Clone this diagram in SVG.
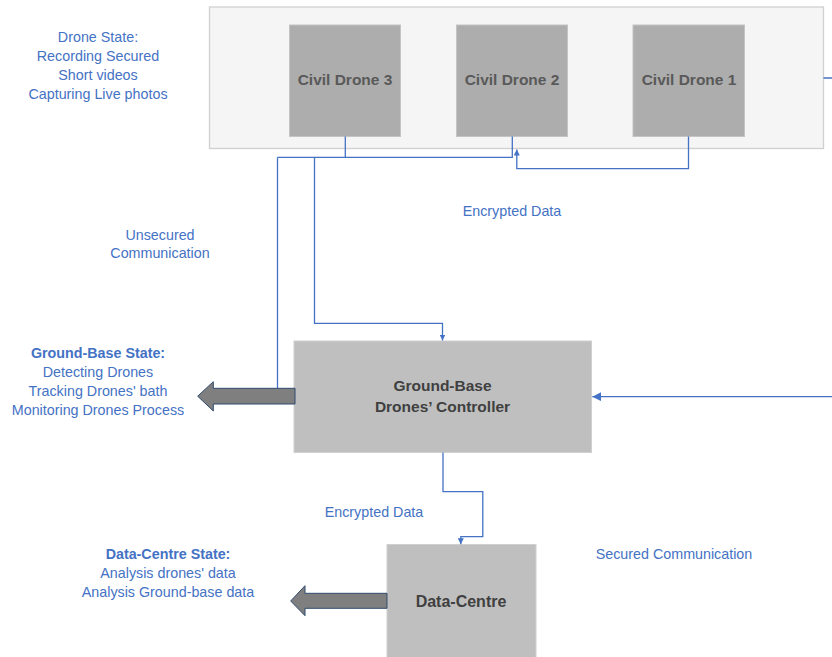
<svg xmlns="http://www.w3.org/2000/svg" width="832" height="657" viewBox="0 0 832 657">
<style>
.lbl{font-family:"Liberation Sans",Arial,sans-serif;font-size:14.3px;fill:#4472C4;text-anchor:middle}
.b{font-weight:bold}
.node{font-family:"Liberation Sans",Arial,sans-serif;font-weight:bold;font-size:15.5px;text-anchor:middle}
.conn{fill:none;stroke:#4472C4;stroke-width:1.3}
.fat{fill:#7f7f7f;stroke:#2f4a6e;stroke-width:1}
</style>
<defs>
<marker id="ah" viewBox="0 0 10 10" refX="10" refY="5" markerWidth="6" markerHeight="6" markerUnits="userSpaceOnUse" orient="auto">
<path d="M0,0 L10,5 L0,10 z" fill="#4472C4"/>
</marker>
<marker id="ah2" viewBox="0 0 10 10" refX="10" refY="5" markerWidth="9" markerHeight="9" markerUnits="userSpaceOnUse" orient="auto">
<path d="M0,0 L10,5 L0,10 z" fill="#4472C4"/>
</marker>
</defs>
<rect width="832" height="657" fill="#ffffff"/>

<g id="drone-container">
<rect x="209.5" y="7" width="614" height="141.5" fill="#f5f5f5" stroke="#d0d0d0" stroke-width="1.3"/>
</g>
<g id="drone3">
<rect x="289.5" y="25" width="111" height="111.5" fill="#adadad" stroke="#c4c4c4" stroke-width="1"/>
<text class="node" x="345" y="85" fill="#595959">Civil Drone 3</text>
</g>
<g id="drone2">
<rect x="456.5" y="25" width="111" height="111.5" fill="#adadad" stroke="#c4c4c4" stroke-width="1"/>
<text class="node" x="512" y="85" fill="#595959">Civil Drone 2</text>
</g>
<g id="drone1">
<rect x="633" y="25" width="111.5" height="111.5" fill="#adadad" stroke="#c4c4c4" stroke-width="1"/>
<text class="node" x="689" y="85" fill="#595959">Civil Drone 1</text>
</g>
<g id="ground-base">
<rect x="294" y="341" width="297.5" height="111.5" fill="#bfbfbf" stroke="#d0d0d0" stroke-width="1"/>
<text class="node" x="442.5" y="391" fill="#404040">Ground-Base</text>
<text class="node" x="442.5" y="412" fill="#404040">Drones’ Controller</text>
</g>
<g id="data-centre">
<rect x="387" y="544.5" width="149" height="113" fill="#bfbfbf" stroke="#d0d0d0" stroke-width="1"/>
<text class="node" x="461" y="607" fill="#404040" style="font-size:16px">Data-Centre</text>
</g>

<g id="connectors">
<path class="conn" d="M345.3,136.5 V157.3 H512.3 V136.5"/>
<path class="conn" d="M688.5,136.5 V168.7 H516.8 V149.5" marker-end="url(#ah)"/>
<path class="conn" d="M277.5,157.3 H345.3"/>
<path class="conn" d="M277.5,157.3 V388.3"/>
<path class="conn" d="M314.5,157.3 V323.3 H442.5 V340.5" marker-end="url(#ah)"/>
<path class="conn" d="M823.5,78 H845 V396.7 H592.3" marker-end="url(#ah2)"/>
<path class="conn" d="M443,452.5 V491.7 H482.8 V536.7 H460.8 V544.3" marker-end="url(#ah)"/>
<path class="fat" d="M295,388.3 H213.3 V381.7 L197.7,396.2 L213.3,411 V404 H295 Z"/>
<path class="fat" d="M387,593.3 H305 V585.7 L290.7,601 L305,615.7 V608.3 H387 Z"/>
</g>

<g id="labels">
<text class="lbl" x="98" y="41.5">Drone State:</text>
<text class="lbl" x="98" y="60.5">Recording Secured</text>
<text class="lbl" x="98" y="79.5">Short videos</text>
<text class="lbl" x="98" y="98.5">Capturing Live photos</text>
<text class="lbl" x="512" y="216">Encrypted Data</text>
<text class="lbl" x="160" y="240">Unsecured</text>
<text class="lbl" x="160" y="258">Communication</text>
<text class="lbl b" x="98" y="358">Ground-Base State:</text>
<text class="lbl" x="98" y="377">Detecting Drones</text>
<text class="lbl" x="98" y="396">Tracking Drones' bath</text>
<text class="lbl" x="98" y="414.5">Monitoring Drones Process</text>
<text class="lbl" x="374" y="517">Encrypted Data</text>
<text class="lbl" x="674" y="559">Secured Communication</text>
<text class="lbl b" x="168" y="558.5">Data-Centre State:</text>
<text class="lbl" x="168" y="577.5">Analysis drones' data</text>
<text class="lbl" x="168" y="596.5">Analysis Ground-base data</text>
</g>
</svg>
